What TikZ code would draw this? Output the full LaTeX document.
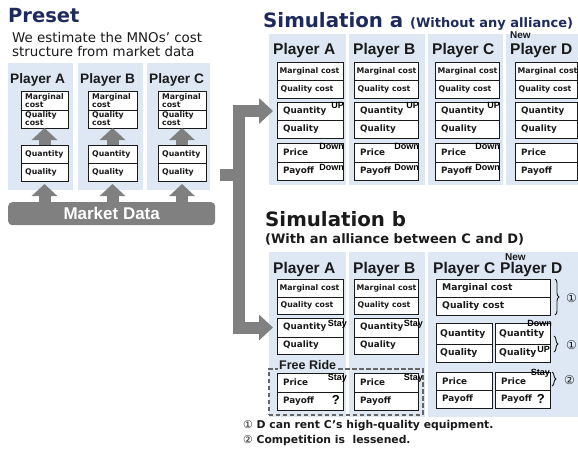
\documentclass[tikz,border=0pt]{standalone}
\usepackage{fontspec}
\setmainfont{DejaVu Sans}
\newfontfamily\arl{Liberation Sans}
\newfontfamily\symf{DejaVu Sans}
\usetikzlibrary{arrows.meta,decorations.pathreplacing}

\definecolor{bgblue}{HTML}{DDE8F4}
\definecolor{arrowgray}{HTML}{808080}
\definecolor{navy}{HTML}{1F2A5C}
\definecolor{ink}{HTML}{1A1A1A}
\definecolor{dashgray}{HTML}{666666}

\newcommand\fsz[1]{\fontsize{#1}{#1}\selectfont}

% light blue column panel: name, x1, y1, x2, y2
\newcommand\bgbox[5]{%
  \pgfmathsetmacro\bgw{#4-#2}\pgfmathsetmacro\bgh{#5-#3}%
  \node[colbg, minimum width=\bgw pt, minimum height=\bgh pt] (#1) at (#2,#3) {};}

% white cell with left aligned label: name, x1, y1, x2, y2, padding, text style, text
\newcommand\cellbox[8]{%
  \pgfmathsetmacro\cbw{#4-#2}\pgfmathsetmacro\cbh{#5-#3}%
  \node[cell, anchor=north west, minimum width=\cbw pt, minimum height=\cbh pt] (#1) at (#2,#3) {};
  \node[celltext, #7, anchor=west] (#1-t) at ([xshift=#6pt]#1.west) {#8};}

\begin{document}
\begin{tikzpicture}[x=1pt,y=-1pt,
  colbg/.style={fill=bgblue, draw=none, anchor=north west, inner sep=0pt, outer sep=0pt},
  cell/.style={draw=ink, line width=0.9pt, fill=white, inner sep=0pt, outer sep=0pt},
  celltext/.style={inner sep=0pt, text=ink, align=left},
  txtP/.style={font=\bfseries\fontsize{7.8}{6.9}\selectfont},
  txtS/.style={font=\bfseries\fsz{7.8}},
  txtM/.style={font=\bfseries\fsz{8.8}},
  txtL/.style={font=\bfseries\fsz{9.2}},
  player/.style={font=\arl\bfseries\fsz{15.5}, text=ink, anchor=base west, inner sep=0pt},
  pplayer/.style={font=\arl\bfseries\fsz{13.7}, text=ink, anchor=base west, inner sep=0pt},
  newtag/.style={font=\arl\bfseries\fsz{10}, text=ink, anchor=base west, inner sep=0pt},
  tagtxt/.style={font=\arl\bfseries\fsz{9}, text=black, anchor=north east, inner sep=0pt},
  qtag/.style={font=\arl\bfseries\fsz{13}, text=black, anchor=north east, inner sep=0pt},
  title/.style={font=\bfseries\fsz{19.8}, anchor=base west, inner sep=0pt},
  subtitle/.style={font=\bfseries\fsz{13}, anchor=base west, inner sep=0pt},
  fat/.style={draw=arrowgray, line width=12pt, -{Triangle[width=25pt,length=12pt]}},
  bigline/.style={draw=arrowgray, line width=12pt},
  bigarrow/.style={bigline, -{Triangle[width=25pt,length=14pt]}},
  mdbar/.style={fill=arrowgray, rounded corners=4pt, text=white, font=\arl\bfseries\fsz{17}, inner sep=0pt, anchor=north west},
  frbox/.style={draw=dashgray, line width=1.6pt, dash pattern=on 4.5pt off 2.5pt, anchor=north west, inner sep=0pt},
  frtext/.style={font=\arl\bfseries\fsz{12.5}, text=ink, anchor=base west, fill=bgblue, inner xsep=1pt, inner ysep=0.5pt},
  bracestyle/.style={draw=ink, line width=0.9pt, decorate, decoration={brace, amplitude=4pt}},
  circ/.style={font=\symf\fsz{12}, text=ink, anchor=west, inner sep=0pt},
  foot/.style={font=\bfseries\fsz{10.8}, text=ink, anchor=base west, inner sep=0pt}]

\useasboundingbox (0,0) rectangle (578,450);
\clip (0,0) rectangle (578,450);

% ---------------- Preset ----------------
\node[title, text=navy, font=\bfseries\fsz{19.5}] (preset) at (8,22) {Preset};
\node[anchor=base west, inner sep=0pt, font=\fsz{13.4}, text=ink] (desc1) at (12,42) {We estimate the MNOs’ cost};
\node[anchor=base west, inner sep=0pt, font=\fsz{13.4}, text=ink] (desc2) at (12,56) {structure from market data};

\bgbox{pbgA}{8}{63}{73}{190}
\bgbox{pbgB}{78}{63}{143}{190}
\bgbox{pbgC}{147}{63}{210}{190}

\node[pplayer] (ppA) at (10,83) {Player A};
\node[pplayer] (ppB) at (80,83) {Player B};
\node[pplayer] (ppC) at (149,83) {Player C};

\foreach \c/\xa/\xb in {A/21/68, B/88/137, C/158/206}{
  \cellbox{pm\c}{\xa}{91}{\xb}{110}{4}{txtP}{Marginal\\cost}
  \cellbox{pc\c}{\xa}{110}{\xb}{128}{4}{txtP}{Quality\\cost}
  \cellbox{pu\c}{\xa}{145}{\xb}{163}{4}{txtS}{Quantity}
  \cellbox{pl\c}{\xa}{163}{\xb}{181}{4}{txtS}{Quality}
  \draw[fat] (pu\c.north) -- (pc\c.south);
}

\node[mdbar, minimum width=207pt, minimum height=23pt] (md) at (8,202) {Market Data};
\foreach \c in {A,B,C}{
  \draw[fat] (md.north -| pl\c.south) -- ([yshift=-3pt]pl\c.south);
}

% ---------------- Simulation a ----------------
\node[title, text=navy] (simA) at (263,27) {Simulation a};
\node[subtitle, text=navy] (simAsub) at (410,27) {(Without any alliance)};

\bgbox{sabgA}{269}{34}{346}{185}
\bgbox{sabgB}{349}{34}{425}{185}
\bgbox{sabgC}{428}{34}{503}{185}
\bgbox{sabgD}{506}{34}{578}{185}

\node[player] (saPA) at (273,54) {Player A};
\node[player] (saPB) at (353,54) {Player B};
\node[player] (saPC) at (432,54) {Player C};
\node[player] (saPD) at (510,54) {Player D};
\node[newtag] (saNew) at (510,38) {New};

\foreach \c/\xa/\xb in {A/277/343, B/354/418, C/435/499, D/515/577}{
  \cellbox{sa\c1}{\xa}{62}{\xb}{80}{2.5}{txtS}{Marginal cost}
  \cellbox{sa\c2}{\xa}{80}{\xb}{98}{3.5}{txtS}{Quality cost}
  \cellbox{sa\c3}{\xa}{102}{\xb}{120}{6}{txtM}{Quantity}
  \cellbox{sa\c4}{\xa}{120}{\xb}{138}{6}{txtM}{Quality}
  \cellbox{sa\c5}{\xa}{143}{\xb}{162}{6}{txtM}{Price}
  \cellbox{sa\c6}{\xa}{162}{\xb}{180}{6}{txtM}{Payoff}
}
\foreach \c in {A,B,C}{
  \node[tagtxt] (sa\c3u) at ([xshift=1pt,yshift=-0.5pt]sa\c3.north east) {UP};
  \node[tagtxt] (sa\c5d) at ([xshift=1pt,yshift=0pt]sa\c5.north east) {Down};
  \node[tagtxt] (sa\c6d) at ([xshift=1pt,yshift=-2pt]sa\c6.north east) {Down};
}

% ---------------- Simulation b ----------------
\node[title, text=ink] (simB) at (265,226) {Simulation b};
\node[subtitle, text=ink] (simBsub) at (265,243) {(With an alliance between C and D)};

\bgbox{sbbgA}{269}{252}{346}{417}
\bgbox{sbbgB}{349}{252}{425}{417}
\bgbox{sbbgCD}{428}{252}{578}{417}

\node[player] (sbPA) at (273,273) {Player A};
\node[player] (sbPB) at (353,273) {Player B};
\node[player] (sbPC) at (433,273) {Player C};
\node[player] (sbPD) at (500,273) {Player D};
\node[newtag] (sbNew) at (505,260) {New};

% free-ride zone around the price rows of A and B
\node[frbox, minimum width=154pt, minimum height=46pt] (fr) at (268,368) {};
\node[frtext] (frl) at (278,369.5) {Free Ride};

\foreach \c/\xa/\xb in {A/277/343, B/354/418}{
  \cellbox{sb\c1}{\xa}{279}{\xb}{297}{2.5}{txtS}{Marginal cost}
  \cellbox{sb\c2}{\xa}{297}{\xb}{314}{3.5}{txtS}{Quality cost}
  \cellbox{sb\c3}{\xa}{318}{\xb}{337}{6}{txtM}{Quantity}
  \cellbox{sb\c4}{\xa}{337}{\xb}{354}{6}{txtM}{Quality}
  \cellbox{sb\c5}{\xa}{373}{\xb}{392}{6}{txtM}{Price}
  \cellbox{sb\c6}{\xa}{392}{\xb}{410}{6}{txtM}{Payoff}
}
\cellbox{sbM}{436}{279}{550}{297}{6}{txtL}{Marginal cost}
\cellbox{sbQC}{436}{297}{550}{315}{6}{txtL}{Quality cost}
\foreach \c/\xa/\xb in {C/436/492, D/495/550}{
  \cellbox{sb\c3}{\xa}{323}{\xb}{344}{4}{txtL}{Quantity}
  \cellbox{sb\c4}{\xa}{344}{\xb}{362}{4}{txtL}{Quality}
  \cellbox{sb\c5}{\xa}{372}{\xb}{390}{6}{txtM}{Price}
  \cellbox{sb\c6}{\xa}{390}{\xb}{408}{6}{txtM}{Payoff}
}

\node[tagtxt] (sbA3s) at ([xshift=4pt,yshift=-2pt]sbA3.north east) {Stay};
\node[tagtxt] (sbB3s) at ([xshift=5pt,yshift=-2pt]sbB3.north east) {Stay};
\node[tagtxt] (sbA5s) at ([xshift=4pt,yshift=-1pt]sbA5.north east) {Stay};
\node[tagtxt] (sbB5s) at ([xshift=5pt,yshift=-1pt]sbB5.north east) {Stay};
\node[qtag] (sbA6q) at ([xshift=-3pt,yshift=-3pt]sbA6.north east) {?};
\node[tagtxt] (sbD3d) at ([xshift=2pt,yshift=3pt]sbD3.north east) {Down};
\node[tagtxt] (sbD4u) at ([xshift=0pt,yshift=-2pt]sbD4.north east) {UP};
\node[tagtxt] (sbD5s) at ([xshift=0pt,yshift=3pt]sbD5.north east) {Stay};
\node[qtag] (sbD6q) at ([xshift=-5pt,yshift=-4pt]sbD6.north east) {?};

% braces with notes
\draw[bracestyle] ([xshift=5pt]sbM.north east) -- ([xshift=5pt]sbQC.south east);
\node[circ] (n1a) at (566,298) {①};
\draw[bracestyle] ([shift={(4,-8)}]sbD4.north east) -- ([shift={(4,8)}]sbD4.north east);
\node[circ] (n1b) at (566,345) {①};
\draw[bracestyle] ([xshift=2pt]sbD5.north east) -- ([shift={(2,-4)}]sbD5.south east);
\node[circ] (n2) at (564,380) {②};

\node[foot] (fn1) at (243,428) {{\symf\mdseries ①} D can rent C’s high-quality equipment.};
\node[foot] (fn2) at (243,443) {{\symf\mdseries ②} Competition is\ \ lessened.};

% ---------------- connector from Preset to the simulations ----------------
\coordinate (stubL) at (220,175);
\coordinate (junc) at (239,175);
\draw[bigline] (stubL) -- (junc);
\draw[bigarrow] (junc) |- ([xshift=-4pt]saA3.west);
\draw[bigarrow] (junc) |- ([xshift=-4pt]sbA3.west);

\end{tikzpicture}
\end{document}
